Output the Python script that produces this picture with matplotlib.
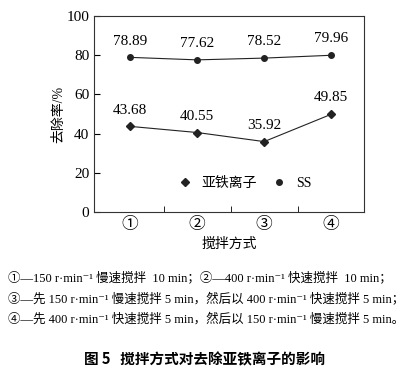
import matplotlib
matplotlib.use('Agg')
import matplotlib.pyplot as plt

plt.rcParams['font.family'] = ['Liberation Serif', 'Noto Sans CJK SC', 'DejaVu Sans']

categories = ['①', '②', '③', '④']
fe_vals = [43.68, 40.55, 35.92, 49.85]
ss_vals = [78.89, 77.62, 78.52, 79.96]
fe_labels = ['43.68', '40.55', '35.92', '49.85']
ss_labels = ['78.89', '77.62', '78.52', '79.96']
yticks = [0, 20, 40, 60, 80, 100]

fig = plt.figure(figsize=(4.10, 3.73), dpi=100)
ax = fig.add_axes([94/410, 1 - 212/373, 270/410, 196/373])

x = list(range(len(categories)))
ax.plot(x, fe_vals, color='#222222', lw=0.8, marker='D', ms=4, label='亚铁离子')
ax.plot(x, ss_vals, color='#222222', lw=0.8, marker='o', ms=4, label='SS')
for xi, v, t in zip(x, fe_vals, fe_labels):
    ax.text(xi, v + 5, t, ha='center', va='bottom', fontsize=11)
for xi, v, t in zip(x, ss_vals, ss_labels):
    ax.text(xi, v + 5, t, ha='center', va='bottom', fontsize=11)

ax.set_xlim(-0.54, 3.49)
ax.set_ylim(0, 100)
ax.set_yticks(yticks)
ax.set_xticks(x)
ax.set_xticklabels(categories, fontsize=12, family=['Noto Sans CJK SC'])
ax.set_xticks([0.5, 1.5, 2.5], minor=True)
ax.tick_params(axis='x', which='major', length=0, pad=3)
ax.tick_params(axis='x', which='minor', direction='in', length=4)
ax.tick_params(axis='y', direction='in', length=4, labelsize=11)
for s in ax.spines.values():
    s.set_linewidth(0.8)
    s.set_color('#333333')
ax.set_ylabel('去除率/%', fontsize=10, labelpad=1)
ax.set_xlabel('搅拌方式', fontsize=10, labelpad=3)

leg = ax.legend(loc='lower center', bbox_to_anchor=(0.56, 0.05), ncol=2, frameon=False,
                fontsize=10, handlelength=0.8, columnspacing=1.2)
for h in leg.legend_handles:
    h.set_linestyle('')

cap = ['①—150 r·min⁻¹ 慢速搅拌  10 min；②—400 r·min⁻¹ 快速搅拌  10 min；',
       '③—先 150 r·min⁻¹ 慢速搅拌 5 min，然后以 400 r·min⁻¹ 快速搅拌 5 min；',
       '④—先 400 r·min⁻¹ 快速搅拌 5 min，然后以 150 r·min⁻¹ 慢速搅拌 5 min。']
for i, line in enumerate(cap):
    fig.text(8/410, 1 - (278 + i * 20.5)/373, line, fontsize=9.0, va='center', ha='left')

fig.text(0.5, 1 - 359/373, '图 5   搅拌方式对去除亚铁离子的影响', fontsize=10.5, fontweight='bold',
         ha='center', va='center', family=['Noto Sans CJK SC'])

fig.savefig('out.png', dpi=100)
